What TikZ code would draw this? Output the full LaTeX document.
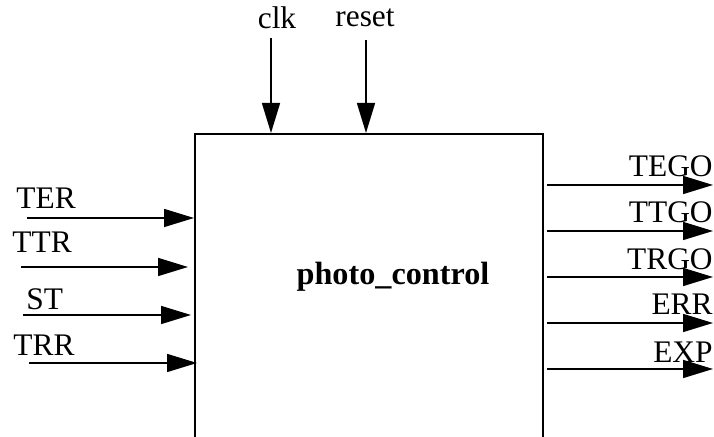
\documentclass[tikz,border=0pt]{standalone}
\usepackage{fontspec}
\setmainfont{Liberation Serif}
\usetikzlibrary{arrows.meta, calc, positioning}

\begin{document}
\begin{tikzpicture}[x=0.5pt, y=-0.5pt,
  sig/.style={line width=0.75pt, -{Triangle[length=15pt,width=9pt]}},
  lbl/.style={inner sep=0pt, font=\fontsize{15.7}{18}\selectfont}]
\useasboundingbox (0,0) rectangle (714,437);
\clip (0,0) rectangle (714,437);

% Block
\node[draw, line width=1pt, inner sep=0pt, anchor=north west,
  minimum width=174pt, minimum height=180pt] (box) at (194,133) {};
\node[lbl, font=\fontsize{16.1}{18}\selectfont\bfseries, anchor=base] (title) at (393,285) {photo\_control};

% Clock and reset
\coordinate (clk) at (271,38);
\node[lbl, anchor=base] (clklbl) at (277,29) {clk};
\draw[sig] (clk) -- (clk |- box.north);
\coordinate (rst) at (366,40);
\node[lbl, anchor=base] (rstlbl) at (365,27) {reset};
\draw[sig] (rst) -- (rst |- box.north);

% Inputs
\coordinate (ter) at (27,218);
\node[lbl, anchor=base west] (terlbl) at (16,209) {TER};
\draw[sig] (ter) -- (ter -| box.west);
\coordinate (ttr) at (21,267);
\node[lbl, anchor=base west] (ttrlbl) at (12,253) {TTR};
\draw[sig] (ttr) -- ([xshift=-3pt]ttr -| box.west);
\coordinate (st) at (23,315);
\node[lbl, anchor=base west] (stlbl) at (26,310) {ST};
\draw[sig] (st) -- ([xshift=-1.5pt]st -| box.west);
\coordinate (trr) at (29,363);
\node[lbl, anchor=base west] (trrlbl) at (13,356) {TRR};
\draw[sig] (trr) -- ([xshift=1.5pt]trr -| box.west);

% Outputs
\coordinate (tego) at (713,185);
\node[lbl, anchor=base east] (tegolbl) at (713,177) {TEGO};
\draw[sig] ([xshift=1.5pt]tego -| box.east) -- (tego);
\coordinate (ttgo) at (713,231);
\node[lbl, anchor=base east] (ttgolbl) at (713,223) {TTGO};
\draw[sig] ([xshift=1.5pt]ttgo -| box.east) -- (ttgo);
\coordinate (trgo) at (713,277);
\node[lbl, anchor=base east] (trgolbl) at (713,270) {TRGO};
\draw[sig] ([xshift=1.5pt]trgo -| box.east) -- (trgo);
\coordinate (err) at (713,323);
\node[lbl, anchor=base east] (errlbl) at (713,315) {ERR};
\draw[sig] ([xshift=1.5pt]err -| box.east) -- (err);
\coordinate (exp) at (713,369);
\node[lbl, anchor=base east] (explbl) at (713,363) {EXP};
\draw[sig] ([xshift=1.5pt]exp -| box.east) -- (exp);

\end{tikzpicture}
\end{document}
